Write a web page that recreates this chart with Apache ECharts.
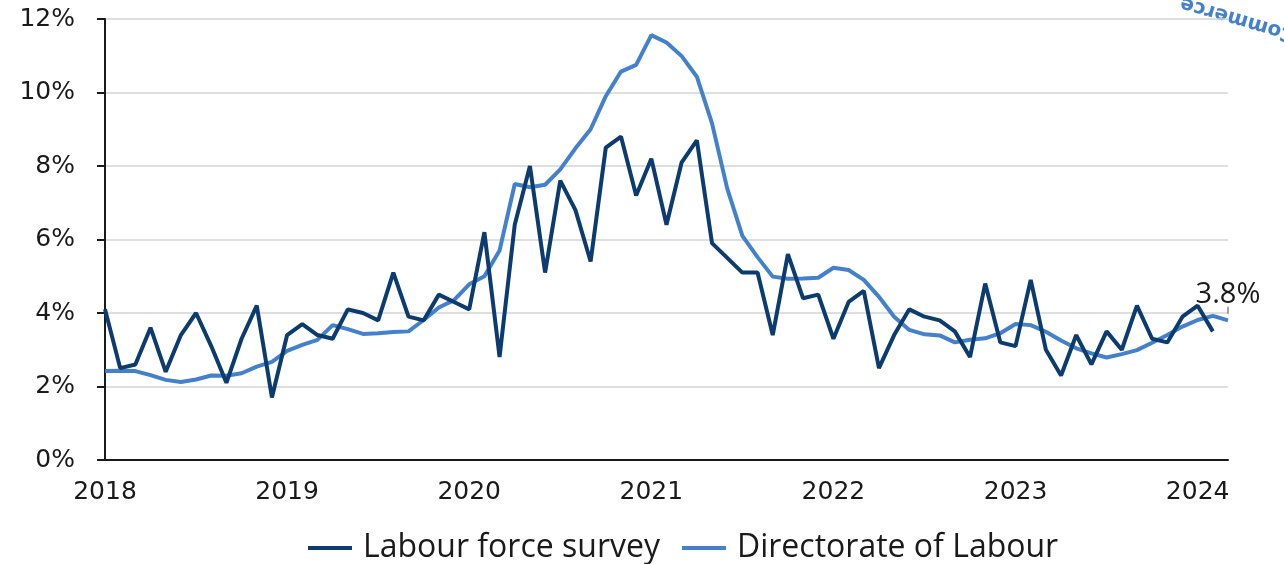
<!DOCTYPE html>
<html>
<head>
<meta charset="utf-8">
<script src="https://cdn.jsdelivr.net/npm/echarts@6/dist/echarts.min.js"></script>
<style>
html,body{margin:0;padding:0;background:#fff;}
#chart{width:1284px;height:564px;}
</style>
</head>
<body>
<div id="chart"></div>
<script>
// Months Jan 2018 – Mar 2024
const months = [];
for (let y = 2018; y <= 2024; y++) {
  for (let m = 1; m <= 12; m++) {
    if (y === 2024 && m > 3) break;
    months.push(y + '-' + String(m).padStart(2, '0'));
  }
}

const seriesNames = ['Labour force survey', 'Directorate of Labour'];

// Labour force survey, % (Jan 2018 – Feb 2024)
const lfs = [
  4.1, 2.5, 2.6, 3.6, 2.4, 3.4, 4.0, 3.1, 2.1, 3.3, 4.2, 1.7,
  3.4, 3.7, 3.4, 3.3, 4.1, 4.0, 3.8, 5.1, 3.9, 3.8, 4.5, 4.3,
  4.1, 6.2, 2.8, 6.4, 8.0, 5.1, 7.6, 6.8, 5.4, 8.5, 8.8, 7.2,
  8.2, 6.4, 8.1, 8.7, 5.9, 5.5, 5.1, 5.1, 3.4, 5.6, 4.4, 4.5,
  3.3, 4.3, 4.6, 2.5, 3.4, 4.1, 3.9, 3.8, 3.5, 2.8, 4.8, 3.2,
  3.1, 4.9, 3.0, 2.3, 3.4, 2.6, 3.5, 3.0, 4.2, 3.3, 3.2, 3.9,
  4.2, 3.5
];

// Directorate of Labour, % (Jan 2018 – Mar 2024)
const dol = [
  2.42, 2.43, 2.42, 2.31, 2.18, 2.12, 2.19, 2.30, 2.29, 2.36, 2.54, 2.67,
  2.97, 3.13, 3.27, 3.67, 3.56, 3.43, 3.45, 3.48, 3.50, 3.81, 4.15, 4.35,
  4.78, 5.0, 5.7, 7.51, 7.42, 7.49, 7.91, 8.48, 9.0, 9.9, 10.57, 10.75,
  11.56, 11.36, 10.99, 10.43, 9.16, 7.39, 6.1, 5.52, 4.99, 4.93, 4.94, 4.96,
  5.23, 5.17, 4.9, 4.44, 3.9, 3.54, 3.42, 3.39, 3.2, 3.27, 3.31, 3.45,
  3.70, 3.67, 3.49, 3.25, 3.04, 2.90, 2.79, 2.88, 2.99, 3.19, 3.40, 3.63,
  3.81, 3.92, 3.8
];

const yTicks = { min: 0, max: 12, interval: 2 };
const endLabel = '3.8%';

const TICK_FONT = 'DejaVu Sans';
const TEXT_FONT = 'Open Sans';
const chart = echarts.init(document.getElementById('chart'), null, { renderer: 'canvas' });

const option = {
  backgroundColor: '#ffffff',
  animation: false,
  grid: { left: 105, right: 56, top: 19, bottom: 104, containLabel: false },
  legend: {
    bottom: -5,
    left: 303,
    itemWidth: 44,
    itemHeight: 4,
    itemGap: 22,
    icon: 'rect',
    textStyle: { fontFamily: TEXT_FONT, fontSize: 32, color: '#1a1a1a', padding: [0, 0, 0, 6] },
    data: seriesNames
  },
  xAxis: {
    type: 'category',
    data: months,
    boundaryGap: false,
    axisLine: { show: true, lineStyle: { color: '#1a1a1a', width: 2 } },
    axisTick: { show: false },
    splitLine: { show: false },
    axisLabel: {
      interval: (idx, val) => val.endsWith('-01'),
      formatter: (val) => val.slice(0, 4),
      margin: 20,
      fontFamily: TICK_FONT,
      fontSize: 25,
      color: '#1a1a1a'
    }
  },
  yAxis: {
    type: 'value',
    min: yTicks.min,
    max: yTicks.max,
    interval: yTicks.interval,
    axisLine: { show: true, lineStyle: { color: '#1a1a1a', width: 2 } },
    axisTick: { show: true, inside: false, length: 8, lineStyle: { color: '#1a1a1a', width: 2 } },
    splitLine: { show: true, lineStyle: { color: '#d4d4d4', width: 1.5 } },
    axisLabel: {
      formatter: '{value}%',
      margin: 30,
      fontFamily: TICK_FONT,
      fontSize: 25,
      color: '#1a1a1a'
    }
  },
  series: [
    {
      name: seriesNames[0],
      type: 'line',
      data: lfs,
      showSymbol: false,
      symbol: 'none',
      z: 3,
      color: '#0b3b6f',
      lineStyle: { color: '#0b3b6f', width: 4 }
    },
    {
      name: seriesNames[1],
      type: 'line',
      data: dol,
      showSymbol: false,
      symbol: 'none',
      z: 2,
      color: '#4381cc',
      lineStyle: { color: '#4381cc', width: 4 },
      markPoint: {
        silent: true,
        data: [{
          coord: [months[months.length - 1], dol[dol.length - 1]],
          symbol: 'rect',
          symbolSize: [1.2, 7],
          symbolOffset: [0, -10],
          itemStyle: { color: '#666' },
          label: {
            show: true,
            formatter: endLabel,
            position: 'top',
            distance: -2,
            fontFamily: TEXT_FONT,
            fontSize: 29,
            color: '#1a1a1a'
          }
        }]
      }
    }
  ],
  graphic: [
    {
      type: 'text',
      x: 1238,
      y: 19,
      rotation: 2.86,
      style: {
        text: 'Commerce',
        fontFamily: 'DejaVu Sans',
        fontWeight: 'bold',
        fontSize: 20,
        fill: '#4381cc',
        align: 'center',
        verticalAlign: 'middle'
      }
    }
  ]
};

chart.setOption(option);
</script>
</body>
</html>
